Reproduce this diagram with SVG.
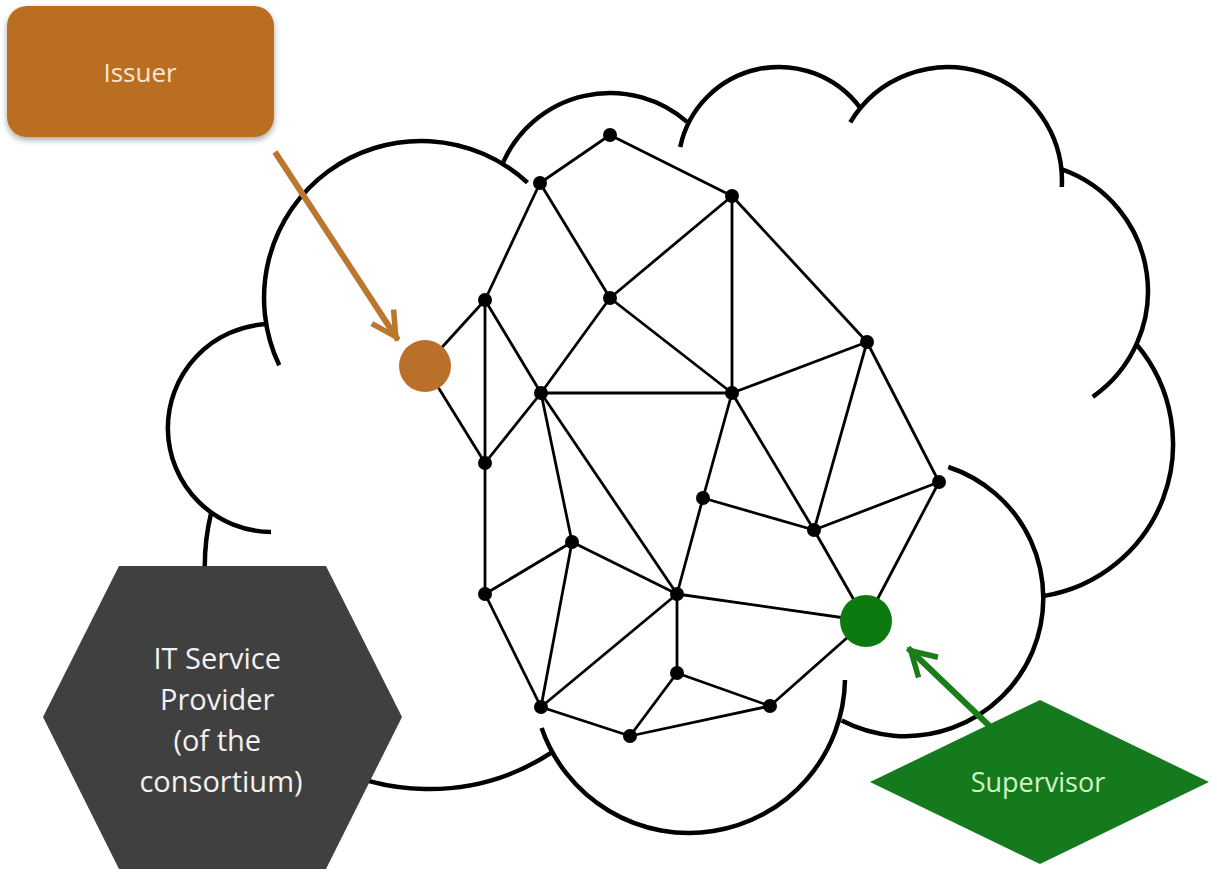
<svg xmlns="http://www.w3.org/2000/svg" width="1217" height="876" viewBox="0 0 1217 876">
  <style>
    .cloud { fill: none; stroke: #000; stroke-width: 4.5; }
    .edge { stroke: #000; stroke-width: 2.8; }
    .dot { fill: #000; }
    .lbl { font-family: "Open Sans", "Noto Sans", sans-serif; text-anchor: middle; }
  </style>
  <defs>
    <filter id="soft" x="-10%" y="-10%" width="120%" height="125%">
      <feGaussianBlur in="SourceAlpha" stdDeviation="3"/>
      <feOffset dx="0" dy="3" result="b"/>
      <feComponentTransfer><feFuncA type="linear" slope="0.35"/></feComponentTransfer>
      <feMerge><feMergeNode/><feMergeNode in="SourceGraphic"/></feMerge>
    </filter>
    <marker id="arrOrange" markerUnits="userSpaceOnUse" markerWidth="40" markerHeight="40" viewBox="-30 -20 40 40" refX="4" refY="0" orient="auto">
      <path d="M-24,-13 L0,0 L-24,13" fill="none" stroke="#BC772F" stroke-width="5.5"/>
    </marker>
    <marker id="arrGreen" markerUnits="userSpaceOnUse" markerWidth="40" markerHeight="40" viewBox="-30 -20 40 40" refX="4" refY="0" orient="auto">
      <path d="M-24,-14 L0,0 L-24,14" fill="none" stroke="#1A7D1A" stroke-width="5.5"/>
    </marker>
  </defs>
  <rect width="1217" height="876" fill="#fff"/>

  <g id="cloud">
    <path class="cloud" d="M279.2,365.3 A157,157 0 0 1 527.5,182.6"/>
    <path class="cloud" d="M502.7,163.3 A117,117 0 0 1 687,121.9"/>
    <path class="cloud" d="M680.2,147 A101,101 0 0 1 860.2,107.9"/>
    <path class="cloud" d="M850.3,122.3 A114,114 0 0 1 1061.8,187"/>
    <path class="cloud" d="M1061.4,169.2 A129,129 0 0 1 1092.8,396.8"/>
    <path class="cloud" d="M1137,345 A154,154 0 0 1 1043.1,596.1"/>
    <path class="cloud" d="M841.7,720.6 A138,138 0 1 0 948.3,467"/>
    <path class="cloud" d="M541.6,728 A156,156 0 0 0 845,680"/>
    <path class="cloud" d="M211.1,513.1 A224,224 0 0 0 551,752.9"/>
    <path class="cloud" d="M267.4,324.1 A104,104 0 0 0 271,532"/>
  </g>

  <g id="connectors">
    <line class="edge" x1="610" y1="135" x2="540" y2="183"/>
    <line class="edge" x1="610" y1="135" x2="732" y2="196"/>
    <line class="edge" x1="540" y1="183" x2="485" y2="300"/>
    <line class="edge" x1="540" y1="183" x2="610" y2="298"/>
    <line class="edge" x1="732" y1="196" x2="610" y2="298"/>
    <line class="edge" x1="732" y1="196" x2="732" y2="393"/>
    <line class="edge" x1="732" y1="196" x2="867" y2="342"/>
    <line class="edge" x1="485" y1="300" x2="425" y2="366"/>
    <line class="edge" x1="485" y1="300" x2="485" y2="463"/>
    <line class="edge" x1="485" y1="300" x2="541" y2="393"/>
    <line class="edge" x1="610" y1="298" x2="541" y2="393"/>
    <line class="edge" x1="610" y1="298" x2="732" y2="393"/>
    <line class="edge" x1="425" y1="366" x2="485" y2="463"/>
    <line class="edge" x1="541" y1="393" x2="732" y2="393"/>
    <line class="edge" x1="541" y1="393" x2="485" y2="463"/>
    <line class="edge" x1="541" y1="393" x2="572" y2="542"/>
    <line class="edge" x1="541" y1="393" x2="677" y2="594"/>
    <line class="edge" x1="732" y1="393" x2="867" y2="342"/>
    <line class="edge" x1="732" y1="393" x2="703" y2="498"/>
    <line class="edge" x1="732" y1="393" x2="814" y2="530"/>
    <line class="edge" x1="867" y1="342" x2="814" y2="530"/>
    <line class="edge" x1="867" y1="342" x2="939" y2="482"/>
    <line class="edge" x1="703" y1="498" x2="677" y2="594"/>
    <line class="edge" x1="703" y1="498" x2="814" y2="530"/>
    <line class="edge" x1="814" y1="530" x2="939" y2="482"/>
    <line class="edge" x1="814" y1="530" x2="866" y2="621"/>
    <line class="edge" x1="939" y1="482" x2="866" y2="621"/>
    <line class="edge" x1="572" y1="542" x2="485" y2="594"/>
    <line class="edge" x1="572" y1="542" x2="541" y2="707"/>
    <line class="edge" x1="572" y1="542" x2="677" y2="594"/>
    <line class="edge" x1="485" y1="594" x2="485" y2="463"/>
    <line class="edge" x1="485" y1="594" x2="541" y2="707"/>
    <line class="edge" x1="677" y1="594" x2="541" y2="707"/>
    <line class="edge" x1="677" y1="594" x2="677" y2="673"/>
    <line class="edge" x1="677" y1="594" x2="866" y2="621"/>
    <line class="edge" x1="677" y1="673" x2="770" y2="706"/>
    <line class="edge" x1="677" y1="673" x2="630" y2="736"/>
    <line class="edge" x1="541" y1="707" x2="630" y2="736"/>
    <line class="edge" x1="630" y1="736" x2="770" y2="706"/>
    <line class="edge" x1="770" y1="706" x2="866" y2="621"/>
    <line x1="275" y1="152" x2="398" y2="340" stroke="#BC772F" stroke-width="6" marker-end="url(#arrOrange)"/>
    <line x1="1001" y1="737" x2="908" y2="648" stroke="#1A7D1A" stroke-width="6" marker-end="url(#arrGreen)"/>
  </g>

  <g id="network-nodes">
    <circle class="dot" cx="610" cy="135" r="7"/>
    <circle class="dot" cx="540" cy="183" r="7"/>
    <circle class="dot" cx="732" cy="196" r="7"/>
    <circle class="dot" cx="485" cy="300" r="7"/>
    <circle class="dot" cx="610" cy="298" r="7"/>
    <circle class="dot" cx="867" cy="342" r="7"/>
    <circle class="dot" cx="541" cy="393" r="7"/>
    <circle class="dot" cx="732" cy="393" r="7"/>
    <circle class="dot" cx="485" cy="463" r="7"/>
    <circle class="dot" cx="939" cy="482" r="7"/>
    <circle class="dot" cx="703" cy="498" r="7"/>
    <circle class="dot" cx="814" cy="530" r="7"/>
    <circle class="dot" cx="572" cy="542" r="7"/>
    <circle class="dot" cx="485" cy="594" r="7"/>
    <circle class="dot" cx="677" cy="594" r="7"/>
    <circle class="dot" cx="677" cy="673" r="7"/>
    <circle class="dot" cx="541" cy="707" r="7"/>
    <circle class="dot" cx="770" cy="706" r="7"/>
    <circle class="dot" cx="630" cy="736" r="7"/>
  </g>

  <g id="issuer-node">
    <circle cx="425" cy="366" r="26" fill="#B9702A"/>
  </g>
  <g id="supervisor-node">
    <circle cx="866" cy="621" r="26" fill="#0D7A10"/>
  </g>

  <g id="issuer">
    <rect x="7" y="6" width="267" height="131" rx="20" ry="20" fill="#B96E24" filter="url(#soft)"/>
    <text class="lbl" x="140" y="82" font-size="26" fill="#FCE6CF">Issuer</text>
  </g>

  <g id="it-service-provider">
    <polygon points="119,566 326,566 402,717 326,869 119,869 43,717" fill="#404040"/>
    <text class="lbl" font-size="29" fill="#F2F2F2">
      <tspan x="221" y="669">IT Service</tspan>
      <tspan x="221" y="710">Provider</tspan>
      <tspan x="221" y="751">(of the</tspan>
      <tspan x="221" y="792">consortium)</tspan>
    </text>
  </g>

  <g id="supervisor">
    <polygon points="1040,700 1209,782 1040,864 870,782" fill="#157A1D"/>
    <text class="lbl" x="1038" y="792" font-size="27" fill="#D2F3C8">Supervisor</text>
  </g>
</svg>
